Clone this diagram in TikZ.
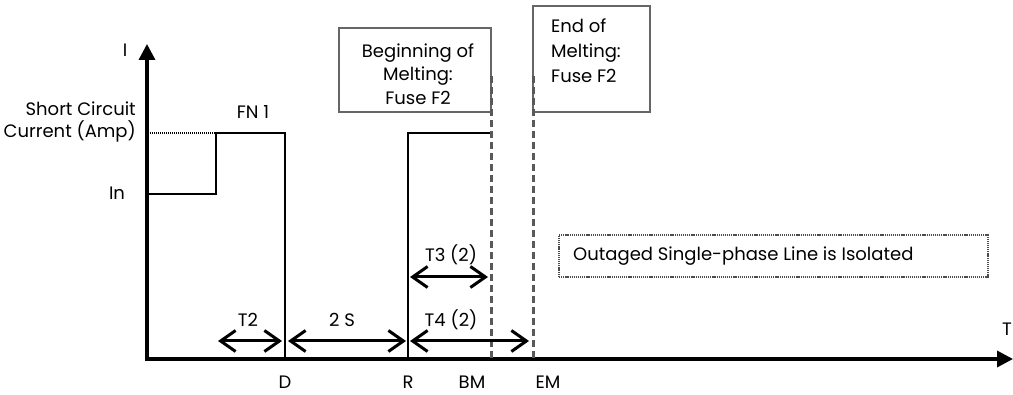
\documentclass[tikz,border=0pt]{standalone}
\usepackage{fontspec}
\setmainfont{Poppins}
\usetikzlibrary{arrows.meta}
\tikzset{
  lbl/.style={font=\fontsize{18}{22}\selectfont, inner sep=0pt},
  axis/.style={line width=3.4pt, -{Triangle[length=16pt,width=16pt]}},
  wave/.style={line width=1.3pt, black},
  gbox/.style={draw=black!60, line width=1.8pt},
  mdash/.style={draw=black!65, line width=3pt, dash pattern=on 7pt off 4pt},
  dim/.style={line width=3pt, {Straight Barb[length=15pt,width=21pt]}-{Straight Barb[length=15pt,width=21pt]}},
}
\begin{document}
\begin{tikzpicture}[x=1pt,y=-1pt]
\useasboundingbox (0,0) rectangle (1013,395);
% axes
\coordinate (O) at (147,359);
\coordinate (Ytop) at (147,44);
\coordinate (Xend) at (1013,359);
\draw[axis] (O) -- (Ytop);
\draw[axis] ([xshift=-1.7pt]O) -- (Xend);
\node[lbl] (I) at (125,50) {I};
\node[lbl] (T) at (1007,329) {T};
% waveform
\coordinate (In0) at (148,194);
\coordinate (In1) at (216,194);
\coordinate (Sc1) at (216,133);
\coordinate (Sc0) at (148,133);
\coordinate (D1) at (285,133);
\coordinate (D0) at (285,359);
\coordinate (R0) at (408,359);
\coordinate (R1) at (408,133);
\coordinate (BM1) at (491,133);
\draw[wave] (In0) -- (In1) -- (Sc1) -- (D1) -- (D0);
\draw[line width=2.2pt, dash pattern=on 1.2pt off 0.8pt] (Sc0) -- (Sc1);
\draw[wave] (R0) -- (R1) -- (BM1);
% labels on axes
\node[lbl, anchor=east, align=right] (sc) at (136,122) {Short Circuit\\Current (Amp)};
\node[lbl] (In) at (117,193) {In};
\node[lbl] (FN) at (253,112) {FN 1};
\node[lbl] (D) at (285,382) {D};
\node[lbl] (R) at (408,382) {R};
\node[lbl] (BM) at (472,382) {BM};
\node[lbl] (EM) at (548,382) {EM};
% boxes
\node[gbox, minimum width=152pt, minimum height=84pt, inner sep=0pt] (bbox) at (415,70) {};
\node[lbl, align=center, font=\fontsize{18}{23.5}\selectfont] (btext) at (418,74) {Beginning of\\Melting:\\Fuse F2};
\node[gbox, minimum width=117pt, minimum height=106pt, inner sep=0pt] (ebox) at (591.5,59) {};
\node[lbl, align=left, anchor=north west, font=\fontsize{18}{25}\selectfont] (etext) at (551,19) {End of\\Melting:\\Fuse F2};
% dashed melting lines
\coordinate (BMb) at (491,359);
\coordinate (EMb) at (533,359);
\draw[mdash] (491,76) -- (BMb);
\draw[mdash] (533,76) -- (EMb);
% dimension arrows
\coordinate (t2a) at (218,341); \coordinate (t2b) at (282,341);
\coordinate (s2a) at (288,341); \coordinate (s2b) at (406,341);
\coordinate (t4a) at (410,341); \coordinate (t4b) at (529,341);
\coordinate (t3a) at (410,277); \coordinate (t3b) at (488,277);
\draw[dim] (t2a) -- (t2b);
\draw[dim] (s2a) -- (s2b);
\draw[dim] (t4a) -- (t4b);
\draw[dim] (t3a) -- (t3b);
\node[lbl] (T2) at (248,320) {T2};
\node[lbl] (S2) at (342,320) {2 S};
\node[lbl] (T4) at (451,320) {T4 (2)};
\node[lbl] (T3) at (451,255) {T3 (2)};
% isolated box
\node[draw=black!70, line width=1.8pt, dash pattern=on 1.2pt off 0.9pt, minimum width=429pt, minimum height=42pt, inner sep=0pt] (iso) at (773.5,256) {};
\node[lbl, anchor=west] (isotext) at (573,256) {Outaged Single-phase Line is Isolated};
\end{tikzpicture}
\end{document}
